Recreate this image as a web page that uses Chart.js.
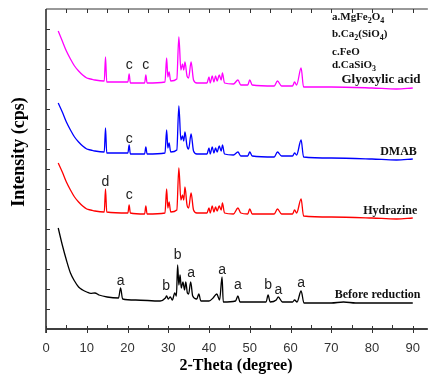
<!DOCTYPE html>
<html>
<head>
<meta charset="utf-8">
<script src="https://cdn.jsdelivr.net/npm/chart.js@4.4.0/dist/chart.umd.min.js"></script>
<style>
  html, body { margin: 0; padding: 0; background: #fff; }
</style>
</head>
<body>
<canvas id="xrdChart" width="432" height="376"></canvas>
<script>
// Sample names (top to bottom in the figure)
const sampleNames = ['Glyoxylic acid', 'DMAB', 'Hydrazine', 'Before reduction'];

// 2-theta positions shared by the three reduced samples
const thetaReduced = [3, 4, 5, 6, 7, 8, 9, 10, 11, 12, 14.3, 14.6, 14.9, 20.1, 20.4, 20.7, 24.2, 24.5, 24.8,
  29.2, 29.6, 29.9, 30.2, 30.6, 32.1, 32.6, 33.1, 33.5, 33.8, 34.1, 34.6, 35.0, 35.6, 36.2, 37, 39.5,
  40, 40.3, 40.8, 41.2, 41.6, 42.0, 42.5, 43.0, 43.3, 43.8, 46, 47.1, 47.8, 49.5, 50, 50.6,
  56, 56.8, 57.8, 60.5, 61, 61.5, 62.6, 63.2, 70, 80, 86, 90];

// intensities (offset stacked, arbitrary cps)
const glyoxylicCps = [1490, 1440, 1390, 1350, 1315, 1290, 1270, 1255, 1250, 1245, 1240, 1360, 1235, 1235, 1275, 1230, 1230, 1270, 1230,
  1235, 1355, 1260, 1285, 1240, 1250, 1460, 1295, 1325, 1295, 1335, 1265, 1255, 1335, 1245, 1230, 1230,
  1260, 1230, 1265, 1235, 1265, 1240, 1270, 1245, 1280, 1230, 1225, 1245, 1220, 1220, 1245, 1220,
  1215, 1240, 1215, 1215, 1235, 1220, 1305, 1210, 1210, 1205, 1200, 1205];
const dmabCps = [1130, 1085, 1035, 995, 960, 935, 915, 900, 895, 890, 885, 1005, 880, 880, 920, 875, 875, 910, 875,
  880, 995, 905, 930, 885, 895, 1115, 945, 965, 940, 985, 915, 900, 975, 890, 875, 875,
  905, 875, 910, 880, 905, 885, 915, 890, 920, 875, 870, 885, 865, 865, 885, 865,
  860, 885, 865, 865, 880, 870, 945, 860, 855, 850, 845, 850];
const hydrazineCps = [830, 785, 735, 695, 660, 635, 615, 600, 595, 590, 585, 700, 585, 580, 620, 580, 575, 615, 575,
  580, 700, 605, 635, 585, 595, 805, 645, 670, 645, 710, 620, 605, 680, 595, 580, 580,
  605, 580, 615, 585, 610, 590, 615, 595, 630, 580, 575, 605, 580, 575, 600, 575,
  575, 600, 575, 575, 595, 580, 650, 565, 560, 555, 550, 555];

const thetaBefore = [3, 4, 5, 6, 7, 8, 9, 10, 11, 12, 13, 15, 17.8, 18.3, 18.8, 22, 28,
  29.3, 29.6, 30, 30.5, 31, 31.6, 32.0, 32.3, 32.6, 32.9, 33.2, 33.6, 34.0, 34.3, 34.7, 35.0, 35.5, 36.0,
  37.0, 37.5, 38, 40, 41, 41.9, 42.6, 43.2, 43.5, 46.5, 47.1, 47.6, 54.0, 54.5, 55,
  56.5, 57, 58, 60.5, 61, 61.6, 62.6, 63.3, 70, 73, 76, 90];
const beforeCps = [505, 420, 345, 280, 240, 210, 195, 185, 178, 180, 170, 160, 155, 205, 150, 145, 140,
  155, 165, 150, 160, 145, 180, 165, 320, 220, 270, 205, 235, 195, 235, 180, 175, 235, 165,
  150, 175, 140, 140, 155, 175, 145, 260, 135, 140, 165, 135, 135, 170, 135,
  145, 160, 135, 135, 145, 135, 190, 130, 130, 135, 130, 130];

// phase marks above peaks: letter, 2-theta, height of the letter
const peakLetters = ['c', 'c', 'c', 'd', 'c', 'a', 'b', 'b', 'a', 'a', 'a', 'b', 'a', 'a'];
const peakTheta   = [20.4, 24.5, 20.4, 14.6, 20.4, 18.3, 29.5, 32.3, 35.6, 43.2, 47.1, 54.5, 57.0, 62.6];
const peakCps     = [1320, 1320, 950, 735, 670, 240, 215, 370, 280, 295, 220, 220, 195, 230];

// phase key
const phaseKeys = ['a', 'b', 'c', 'd'];
const phaseFormulas = ['MgFe_2O_4', 'Ca_2(SiO_4)', 'FeO', 'CaSiO_3'];

const xTicks = [0, 10, 20, 30, 40, 50, 60, 70, 80, 90];

function toPoints(xs, ys) {
    return xs.map((t, i) => ({ x: t, y: ys[i] }));
}

function drawFormula(ctx, text, x, y, size) {
    // '_' makes the next char a subscript
    let cx = x;
    for (let i = 0; i < text.length; i++) {
        let ch = text[i];
        if (ch === '_') {
            ch = text[++i];
            ctx.font = 'bold ' + Math.round(size * 0.75) + 'px "Liberation Serif"';
            ctx.fillText(ch, cx, y + size * 0.28);
        } else {
            ctx.font = 'bold ' + size + 'px "Liberation Serif"';
            ctx.fillText(ch, cx, y);
        }
        cx += ctx.measureText(ch).width;
    }
}

const decorations = {
    id: 'decorations',
    afterDraw(chart) {
        const { ctx, chartArea: a, scales: { x, y } } = chart;
        ctx.save();
        ctx.strokeStyle = '#000';
        ctx.lineWidth = 1.3;
        ctx.beginPath();
        ctx.moveTo(a.left, a.top); ctx.lineTo(a.left, a.bottom + 4);
        ctx.moveTo(a.left, a.bottom); ctx.lineTo(a.right, a.bottom);
        ctx.stroke();
        ctx.lineWidth = 1;
        ctx.strokeStyle = '#333';
        ctx.beginPath();
        ctx.moveTo(a.left, a.top); ctx.lineTo(a.right, a.top);
        // x ticks, bottom and top
        for (let t = 0; t <= 90; t += 5) {
            const px = Math.round(x.getPixelForValue(t)) + 0.5;
            if (t % 10 === 0) {
                ctx.moveTo(px, a.bottom - 3); ctx.lineTo(px, a.bottom + 4);
            } else {
                ctx.moveTo(px, a.bottom - 4); ctx.lineTo(px, a.bottom);
            }
            if (t > 0) { ctx.moveTo(px, a.top); ctx.lineTo(px, a.top + 4); }
        }
        // y ticks (no labels)
        for (let v = 100; v < 1600; v += 100) {
            const py = Math.round(y.getPixelForValue(v)) + 0.5;
            ctx.moveTo(a.left, py); ctx.lineTo(a.left + 4, py);
        }
        ctx.stroke();

        // peak letters
        ctx.fillStyle = '#222';
        ctx.font = '14px "Liberation Sans"';
        ctx.textAlign = 'center';
        ctx.textBaseline = 'middle';
        peakLetters.forEach((l, i) => {
            ctx.fillText(l, x.getPixelForValue(peakTheta[i]), y.getPixelForValue(peakCps[i]));
        });

        // sample names at right end of each trace
        const nameX = [91.9, 91.0, 91.1, 91.9];
        const nameY = [1245, 885, 590, 170];
        const nameSize = [13, 12, 12, 12];
        ctx.fillStyle = '#111';
        ctx.textAlign = 'right';
        sampleNames.forEach((n, i) => {
            ctx.font = 'bold ' + nameSize[i] + 'px "Liberation Serif"';
            ctx.fillText(n, x.getPixelForValue(nameX[i]), y.getPixelForValue(nameY[i]));
        });

        // phase key
        ctx.textAlign = 'left';
        ctx.textBaseline = 'alphabetic';
        const keyY = [20, 37, 55, 68];
        phaseKeys.forEach((k, i) => {
            drawFormula(ctx, k + '.' + phaseFormulas[i], 332, keyY[i], 11);
        });

        // axis titles
        ctx.fillStyle = '#000';
        ctx.font = 'bold 16px "Liberation Serif"';
        ctx.textAlign = 'center';
        ctx.textBaseline = 'middle';
        ctx.fillText('2-Theta (degree)', 236, 366);
        ctx.font = 'bold 18px "Liberation Serif"';
        ctx.translate(19, 152);
        ctx.rotate(-Math.PI / 2);
        ctx.fillText('Intensity (cps)', 0, 0);
        ctx.restore();
    }
};

const lineStyle = { borderWidth: 1.3, pointRadius: 0, cubicInterpolationMode: 'monotone', fill: false };

new Chart(document.getElementById('xrdChart').getContext('2d'), {
    type: 'line',
    data: {
        datasets: [
            { label: sampleNames[0], data: toPoints(thetaReduced, glyoxylicCps), borderColor: '#ff00ff', ...lineStyle },
            { label: sampleNames[1], data: toPoints(thetaReduced, dmabCps), borderColor: '#0000ff', ...lineStyle },
            { label: sampleNames[2], data: toPoints(thetaReduced, hydrazineCps), borderColor: '#ff0000', ...lineStyle },
            { label: sampleNames[3], data: toPoints(thetaBefore, beforeCps), borderColor: '#000000', ...lineStyle }
        ]
    },
    options: {
        responsive: false,
        animation: false,
        devicePixelRatio: 1,
        layout: { padding: { top: 9, left: 0, right: 0, bottom: 0 } },
        plugins: { legend: { display: false }, tooltip: { enabled: false } },
        scales: {
            x: {
                type: 'linear',
                min: 0,
                max: 93.7,
                grid: { display: false, drawTicks: false },
                border: { display: false },
                afterFit: s => { s.height = 47; },
                afterBuildTicks: s => { s.ticks = xTicks.map(v => ({ value: v })); },
                ticks: {
                    padding: 12,
                    color: '#333',
                    font: { family: '"Liberation Sans"', size: 13 },
                    maxRotation: 0
                }
            },
            y: {
                min: 0,
                max: 1600,
                grid: { display: false, drawTicks: false },
                border: { display: false },
                ticks: { display: false },
                afterFit: s => { s.width = 46; }
            }
        }
    },
    plugins: [decorations]
});
</script>
</body>
</html>
